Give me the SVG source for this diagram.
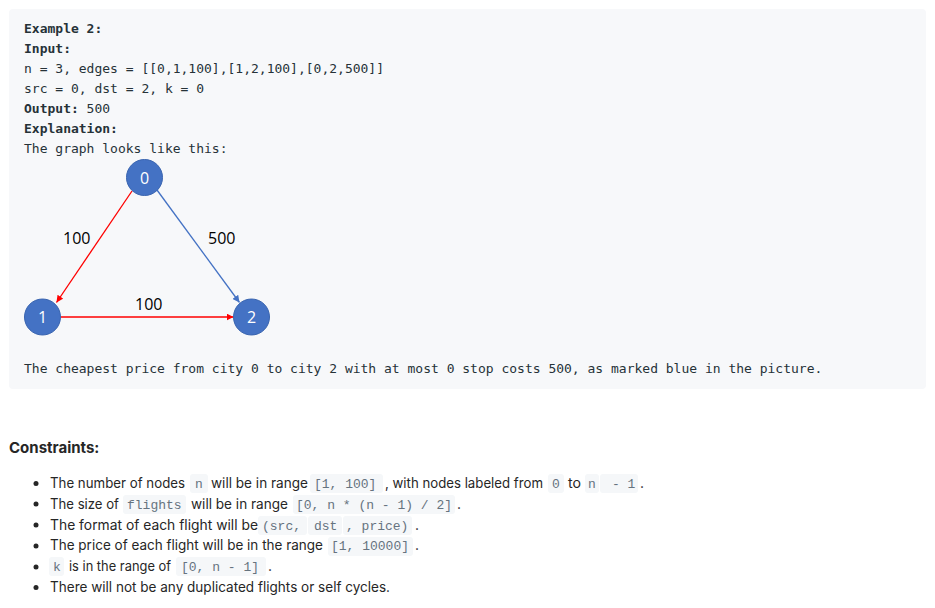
<svg xmlns="http://www.w3.org/2000/svg" width="935" height="608" viewBox="0 0 935 608">
<style>
.mono{font-family:"DejaVu Sans Mono",monospace;font-size:13px;fill:#263238}
.b{font-weight:bold}
.sans{font-family:Inter,"Liberation Sans",sans-serif;font-size:14px;fill:#262626}
.code{font-family:"Liberation Mono",monospace;font-size:13px;fill:#66737f}
.cbg{fill:#f5f7f9}
.lbl{font-family:"Open Sans","Noto Sans",sans-serif;font-size:16px;fill:#000}
.nl{font-family:"Open Sans","Noto Sans",sans-serif;font-size:16px;fill:#fff;text-anchor:middle}
.node{fill:#4472c4;stroke:#3a65b0;stroke-width:1}
.dot{fill:#262626}
</style>
<defs>
<marker id="ar" viewBox="0 0 10 10" refX="10" refY="5" markerWidth="7" markerHeight="7" orient="auto" markerUnits="userSpaceOnUse"><path d="M0,0 L10,5 L0,10 z" fill="#ff0000"/></marker>
<marker id="ab" viewBox="0 0 10 10" refX="10" refY="5" markerWidth="7" markerHeight="7" orient="auto" markerUnits="userSpaceOnUse"><path d="M0,0 L10,5 L0,10 z" fill="#4472c4"/></marker>
</defs>
<rect x="0" y="0" width="935" height="608" fill="#ffffff"/>
<rect x="9" y="9" width="917" height="380" rx="4" fill="#f7f8fa"/>
<g id="example">
<text x="24" y="33" class="mono b">Example 2:</text>
<text x="24" y="53" class="mono b">Input:</text>
<text x="24" y="73" class="mono">n = 3, edges = [[0,1,100],[1,2,100],[0,2,500]]</text>
<text x="24" y="93" class="mono">src = 0, dst = 2, k = 0</text>
<text x="24" y="113" class="mono"><tspan class="b">Output:</tspan> 500</text>
<text x="24" y="133" class="mono b">Explanation:</text>
<text x="24" y="153" class="mono">The graph looks like this:</text>
<text x="24" y="373" class="mono">The cheapest price from city 0 to city 2 with at most 0 stop costs 500, as marked blue in the picture.</text>
</g>
<g id="connectors">
<line x1="132" y1="191" x2="56.5" y2="302.5" stroke="#ff0000" stroke-width="1.3" marker-end="url(#ar)"/>
<line x1="60.5" y1="317" x2="233.5" y2="317" stroke="#ff0000" stroke-width="1.3" marker-end="url(#ar)"/>
<line x1="157" y1="190" x2="239.5" y2="302.5" stroke="#4472c4" stroke-width="1.3" marker-end="url(#ab)"/>
<text x="63" y="244" class="lbl">100</text>
<text x="208" y="244" class="lbl">500</text>
<text x="135" y="310" class="lbl">100</text>
</g>
<g id="node0"><circle cx="144.5" cy="177.5" r="18" class="node"/><text x="144.5" y="183.5" class="nl">0</text></g>
<g id="node1"><circle cx="42.5" cy="317" r="18" class="node"/><text x="42.5" y="323" class="nl">1</text></g>
<g id="node2"><circle cx="251.5" cy="317" r="18" class="node"/><text x="251.5" y="323" class="nl">2</text></g>
<g id="constraints">
<text x="9" y="453" class="sans b" style="font-size:15px">Constraints:</text>
<circle cx="36" cy="483.5" r="2.5" class="dot"/>
<circle cx="36" cy="504" r="2.5" class="dot"/>
<circle cx="36" cy="525" r="2.5" class="dot"/>
<circle cx="36" cy="546" r="2.5" class="dot"/>
<circle cx="36" cy="567" r="2.5" class="dot"/>
<circle cx="36" cy="587.5" r="2.5" class="dot"/>
<rect x="190" y="474" width="18" height="19" rx="3" class="cbg"/>
<rect x="310" y="474" width="73" height="19" rx="3" class="cbg"/>
<rect x="548" y="474" width="16" height="19" rx="3" class="cbg"/>
<rect x="585" y="474" width="14" height="19" rx="3" class="cbg"/>
<rect x="600" y="474" width="38" height="19" rx="3" class="cbg"/>
<rect x="123" y="495" width="63" height="19" rx="3" class="cbg"/>
<rect x="293" y="495" width="162" height="19" rx="3" class="cbg"/>
<rect x="258" y="516" width="49" height="19" rx="3" class="cbg"/>
<rect x="308" y="516" width="34" height="19" rx="3" class="cbg"/>
<rect x="343" y="516" width="69" height="19" rx="3" class="cbg"/>
<rect x="328" y="537" width="85" height="19" rx="3" class="cbg"/>
<rect x="49" y="557" width="15" height="19" rx="3" class="cbg"/>
<rect x="176" y="557" width="90" height="19" rx="3" class="cbg"/>
<text x="50" y="488" class="sans" textLength="135" lengthAdjust="spacingAndGlyphs">The number of nodes</text>
<text x="195" y="488" class="code">n</text>
<text x="211" y="488" class="sans" textLength="97" lengthAdjust="spacingAndGlyphs">will be in range</text>
<text x="314" y="488" class="code">[1, 100]</text>
<text x="385" y="488" class="sans" textLength="158" lengthAdjust="spacingAndGlyphs">, with nodes labeled from</text>
<text x="552" y="488" class="code">0</text>
<text x="568" y="488" class="sans" textLength="13" lengthAdjust="spacingAndGlyphs">to</text>
<text x="588" y="488" class="code">n</text>
<text x="612" y="488" class="code">- 1</text>
<text x="640" y="488" class="sans">.</text>
<text x="50" y="509" class="sans" textLength="69" lengthAdjust="spacingAndGlyphs">The size of</text>
<text x="127" y="509" class="code">flights</text>
<text x="191" y="509" class="sans" textLength="97" lengthAdjust="spacingAndGlyphs">will be in range</text>
<text x="296" y="509" class="code">[0, n * (n - 1) / 2]</text>
<text x="457" y="509" class="sans">.</text>
<text x="50" y="530" class="sans" textLength="208" lengthAdjust="spacingAndGlyphs">The format of each flight will be</text>
<text x="262" y="530" class="code">(src,</text>
<text x="314" y="530" class="code">dst</text>
<text x="346" y="530" class="code">, price)</text>
<text x="415" y="530" class="sans">.</text>
<text x="50" y="550" class="sans" textLength="273" lengthAdjust="spacingAndGlyphs">The price of each flight will be in the range</text>
<text x="331" y="550" class="code">[1, 10000]</text>
<text x="415" y="550" class="sans">.</text>
<text x="53" y="571" class="code">k</text>
<text x="69" y="571" class="sans" textLength="102" lengthAdjust="spacingAndGlyphs">is in the range of</text>
<text x="181" y="571" class="code">[0, n - 1]</text>
<text x="268" y="571" class="sans">.</text>
<text x="50" y="592" class="sans" textLength="340" lengthAdjust="spacingAndGlyphs">There will not be any duplicated flights or self cycles.</text>
</g>
</svg>
